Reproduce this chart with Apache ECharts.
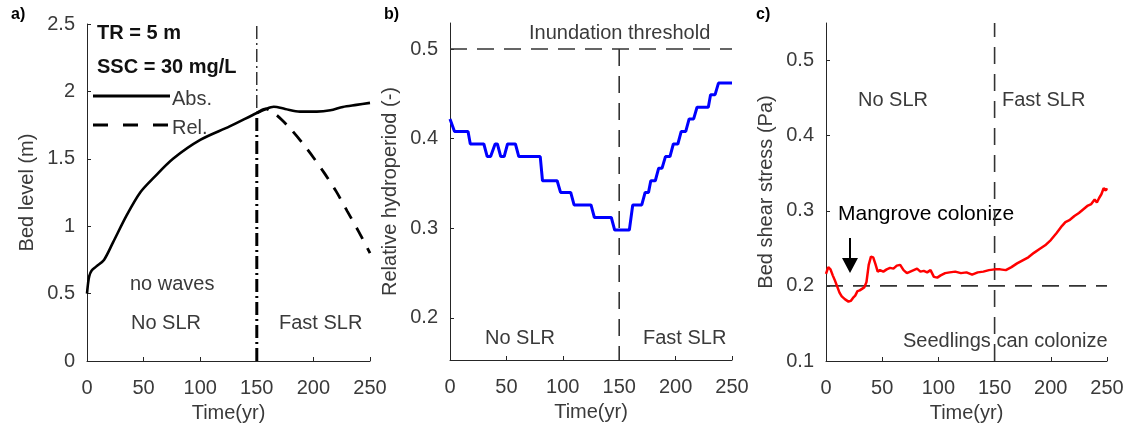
<!DOCTYPE html>
<html>
<head>
<meta charset="utf-8">
<script src="https://cdn.jsdelivr.net/npm/echarts@6.0.0/dist/echarts.min.js"></script>
<style>
  html, body { margin: 0; padding: 0; background: #fff; }
  #main { width: 1127px; height: 425px; }
</style>
</head>
<body>
<div id="main"></div>
<script>
// ---- data ----
const slrStart = 150;

// a) bed level (m)
const timeAbs = [0, 1, 2, 4, 8, 15, 23, 35, 47, 59, 76, 100, 126, 150, 158, 165, 175, 188, 203, 215, 226, 238, 250];
const bedAbs = [0.50, 0.58, 0.63, 0.67, 0.70, 0.75, 0.88, 1.08, 1.25, 1.36, 1.50, 1.64, 1.74, 1.84, 1.87, 1.886, 1.87, 1.85, 1.85, 1.86, 1.885, 1.90, 1.915];
const timeRel = [150, 158, 165, 172, 180, 190, 200, 210, 220, 230, 240, 250];
const bedRel = [1.84, 1.87, 1.84, 1.79, 1.72, 1.62, 1.51, 1.39, 1.26, 1.11, 0.96, 0.80];

// b) relative hydroperiod (-)
const timeHydro = [0, 2, 4, 16, 18, 30, 33, 36, 40, 42, 45, 48, 51, 58, 61, 80, 82, 95, 98, 107, 110, 125, 128, 143, 146, 159, 162, 170, 173, 176, 178, 182, 185, 188, 191, 195, 198, 202, 205, 209, 212, 216, 219, 229, 231, 235, 238, 250];
const hydro = [0.422, 0.415, 0.408, 0.408, 0.394, 0.394, 0.380, 0.380, 0.394, 0.394, 0.380, 0.380, 0.394, 0.394, 0.380, 0.380, 0.353, 0.353, 0.340, 0.340, 0.326, 0.326, 0.312, 0.312, 0.298, 0.298, 0.326, 0.326, 0.340, 0.340, 0.353, 0.353, 0.367, 0.367, 0.380, 0.380, 0.394, 0.394, 0.408, 0.408, 0.422, 0.422, 0.435, 0.435, 0.449, 0.449, 0.462, 0.462];
const inundation = 0.5;
const hydroTicks = [0.2, 0.3, 0.4, 0.5];

// c) bed shear stress (Pa)
const timeStress = [0, 2, 4, 6, 8, 10, 12, 14, 17, 20, 22, 24, 26, 28, 30, 32, 34, 36, 38, 40, 42, 44, 46, 48, 51, 54, 57, 60, 63, 66, 69, 72, 75, 78, 81, 84, 87, 90, 93, 96, 99, 102, 106, 110, 115, 120, 125, 130, 135, 140, 145, 150, 155, 160, 165, 170, 175, 180, 185, 190, 195, 200, 205, 210, 213, 217, 221, 225, 229, 233, 236, 239, 241, 243, 245, 247, 249, 250];
const stress = [0.216, 0.225, 0.222, 0.214, 0.207, 0.199, 0.191, 0.186, 0.182, 0.179, 0.180, 0.184, 0.187, 0.193, 0.194, 0.196, 0.198, 0.205, 0.228, 0.239, 0.238, 0.229, 0.219, 0.221, 0.219, 0.222, 0.224, 0.223, 0.227, 0.228, 0.221, 0.217, 0.219, 0.221, 0.223, 0.219, 0.220, 0.218, 0.221, 0.212, 0.211, 0.214, 0.217, 0.218, 0.219, 0.217, 0.218, 0.215, 0.218, 0.219, 0.221, 0.222, 0.222, 0.221, 0.225, 0.230, 0.234, 0.238, 0.244, 0.249, 0.254, 0.261, 0.270, 0.280, 0.285, 0.288, 0.293, 0.297, 0.302, 0.307, 0.309, 0.315, 0.311, 0.317, 0.322, 0.330, 0.327, 0.330];
const seedling = 0.2;
const stressTicks = [0.1, 0.2, 0.3, 0.4, 0.5];

const pairs = (xs, ys) => xs.map((x, i) => [x, ys[i]]);

const FONT = "Liberation Sans, Arial, sans-serif";
const TXT = "#3a3a3a";
const AX = "#262626";

function xAxisFor(gi) {
    return {
        gridIndex: gi, type: "value", min: 0, max: 250, interval: 50,
        name: "Time(yr)", nameLocation: "middle", nameGap: 42,
        nameTextStyle: { fontFamily: FONT, fontSize: 20, color: TXT },
        axisLine: { lineStyle: { color: AX, width: 1 } },
        axisTick: { inside: true, length: 4, lineStyle: { color: AX } },
        axisLabel: { fontFamily: FONT, fontSize: 20, color: TXT, margin: 17 },
        splitLine: { show: false },
    };
}

function yAxisFor(gi, name, min, max, ticks) {
    const ax = {
        gridIndex: gi, type: "value", min: min, max: max,
        name: name, nameLocation: "middle", nameGap: 50,
        nameTextStyle: { fontFamily: FONT, fontSize: 20, color: TXT },
        axisLine: { show: true, lineStyle: { color: AX, width: 1 } },
        axisTick: { show: true, inside: true, length: 4, lineStyle: { color: AX } },
        axisLabel: { fontFamily: FONT, fontSize: 20, color: TXT, margin: 12 },
        splitLine: { show: false },
    };
    if (ticks) {
        ax.axisLabel.customValues = ticks;
        ax.axisTick.customValues = ticks;
    } else {
        ax.interval = 0.5;
    }
    return ax;
}

const dashGray = { color: "#333", width: 1.6, type: [17, 10] };

const chart = echarts.init(document.getElementById("main"), null, { renderer: "canvas" });

function label(text, left, top, size, opts) {
    opts = opts || {};
    return {
        type: "text", left: left, top: top,
        style: { text: text, font: (opts.bold ? "bold " : "") + size + "px " + FONT, fill: opts.color || TXT },
    };
}

const option = {
    animation: false,
    grid: [
        { left: 87, top: 24, width: 283, height: 337, outerBoundsMode: "none" },
        { left: 450, top: 23, width: 282, height: 337, outerBoundsMode: "none" },
        { left: 826, top: 23, width: 281, height: 338, outerBoundsMode: "none" },
    ],
    xAxis: [xAxisFor(0), xAxisFor(1), xAxisFor(2)],
    yAxis: [
        yAxisFor(0, "Bed level (m)", 0, 2.5),
        yAxisFor(1, "Relative hydroperiod (-)", 0.153, 0.529, hydroTicks),
        yAxisFor(2, "Bed shear stress (Pa)", 0.1, 0.55, stressTicks),
    ],
    series: [
        // a)
        {
            type: "line", xAxisIndex: 0, yAxisIndex: 0, symbol: "none",
            data: [[slrStart, 0], [slrStart, 2.5]],
            lineStyle: { color: "#000", width: 1.2, type: [13, 4, 2, 4] },
        },
        {
            type: "line", xAxisIndex: 0, yAxisIndex: 0, symbol: "none",
            data: [[slrStart, 0], [slrStart, bedAbs[timeAbs.indexOf(slrStart)]]],
            lineStyle: { color: "#000", width: 3, type: [13, 4, 2, 4] },
        },
        {
            name: "Abs.", type: "line", xAxisIndex: 0, yAxisIndex: 0, smooth: 0.3,
            symbol: "none", data: pairs(timeAbs, bedAbs),
            lineStyle: { color: "#000", width: 2.6 },
        },
        {
            name: "Rel.", type: "line", xAxisIndex: 0, yAxisIndex: 0, smooth: 0.3,
            symbol: "none", data: pairs(timeRel, bedRel),
            lineStyle: { color: "#000", width: 2.8, type: [13, 10] },
        },
        // b)
        {
            type: "line", xAxisIndex: 1, yAxisIndex: 1, symbol: "none",
            data: [[0, inundation], [slrStart, inundation], [250, inundation]],
            lineStyle: dashGray,
        },
        {
            type: "line", xAxisIndex: 1, yAxisIndex: 1, symbol: "none",
            data: [[slrStart, inundation], [slrStart, 0.153]],
            lineStyle: dashGray,
        },
        {
            type: "line", xAxisIndex: 1, yAxisIndex: 1, symbol: "none",
            data: pairs(timeHydro, hydro),
            lineStyle: { color: "#0000ff", width: 3 },
        },
        // c)
        {
            type: "line", xAxisIndex: 2, yAxisIndex: 2, symbol: "none",
            data: [[0, seedling], [250, seedling]],
            lineStyle: dashGray,
        },
        {
            type: "line", xAxisIndex: 2, yAxisIndex: 2, symbol: "none",
            data: [[slrStart, 0.1], [slrStart, 0.55]],
            lineStyle: dashGray,
        },
        {
            type: "line", xAxisIndex: 2, yAxisIndex: 2, symbol: "none",
            data: pairs(timeStress, stress),
            lineStyle: { color: "#ff0000", width: 2.5 },
        },
    ],
    graphic: [
        label("a)", 11, 7, 16, { bold: true, color: "#000" }),
        label("b)", 384, 7, 16, { bold: true, color: "#000" }),
        label("c)", 756, 7, 16, { bold: true, color: "#000" }),
        // a) annotations and legend
        label("TR = 5 m", 97, 23, 20, { bold: true, color: "#111" }),
        label("SSC = 30 mg/L", 97, 57, 20, { bold: true, color: "#111" }),
        { type: "line", shape: { x1: 93, y1: 96, x2: 170, y2: 96 }, style: { stroke: "#000", lineWidth: 3 } },
        { type: "line", shape: { x1: 93, y1: 125, x2: 170, y2: 125 }, style: { stroke: "#000", lineWidth: 3, lineDash: [15, 15] } },
        label("Abs.", 172, 89, 20),
        label("Rel.", 172, 118, 20),
        label("no waves", 130, 274, 20),
        label("No SLR", 131, 313, 20),
        label("Fast SLR", 279, 313, 20),
        // b) annotations
        label("Inundation threshold", 529, 23, 20),
        label("No SLR", 485, 328, 20),
        label("Fast SLR", 643, 328, 20),
        // c) annotations
        label("No SLR", 858, 90, 20),
        label("Fast SLR", 1002, 90, 20),
        label("Mangrove colonize", 838, 204, 21, { color: "#000" }),
        label("Seedlings can colonize", 903, 331, 20),
        { type: "line", shape: { x1: 850, y1: 238, x2: 850, y2: 260 }, style: { stroke: "#000", lineWidth: 2 } },
        { type: "polygon", shape: { points: [[842, 258], [858, 258], [850, 273]] }, style: { fill: "#000" } },
    ],
};

chart.setOption(option);
window.addEventListener("resize", chart.resize);
</script>
</body>
</html>
